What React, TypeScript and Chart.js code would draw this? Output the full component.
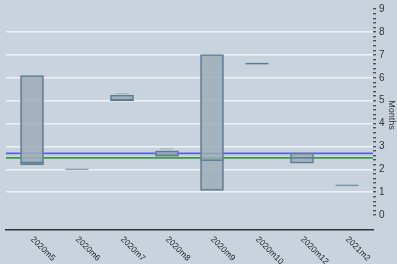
import React, { useEffect, useRef } from 'react';
import { Chart, registerables } from 'chart.js';

Chart.register(...registerables);

const categories = ['2020m5', '2020m6', '2020m7', '2020m8', '2020m9', '2020m10', '2020m12', '2021m2'];
const boxLow: (number | null)[] = [2.2, null, 5.0, 2.58, 1.08, null, 2.27, null];
const boxHigh: (number | null)[] = [6.1, null, 5.24, 2.81, 7.02, null, 2.71, null];
const medians: (number | null)[] = [2.3, 2.0, 5.03, 2.61, 2.4, 6.62, 2.5, 1.3];
const whiskerHigh: (number | null)[] = [null, null, 5.31, 2.9, null, null, null, null];
const medianColors = ['#5d7d96', '#8ea2b3', '#5d7d96', '#5d7d96', '#5d7d96', '#5d7b93', '#5d7d96', '#7d97ab'];
const blueRef = 2.7;
const greenRef = 2.5;
const xMin = -0.578;
const xMax = 7.578;
const yMin = -0.65;
const yMax = 9.4;
const yLabelMin = 0;
const yLabelMax = 9;
const yGridMin = 1;
const yGridMax = 8;
const yTitle = 'Months';

const isInt = (v: number) => Math.abs(v - Math.round(v)) < 1e-6;
const TRANSPARENT = 'rgba(0,0,0,0)';

const xLabelPlugin = {
  id: 'xLabelsRotated',
  afterDraw(chart: any) {
    const ctx = chart.ctx;
    const xs = chart.scales.x;
    const bottom = chart.chartArea.bottom;
    ctx.save();
    ctx.font = '8.5px "Liberation Sans", Arial, sans-serif';
    ctx.fillStyle = '#222';
    ctx.textAlign = 'left';
    ctx.textBaseline = 'middle';
    categories.forEach((c, i) => {
      const px = xs.getPixelForValue(i);
      ctx.save();
      ctx.translate(px, bottom + 8);
      ctx.rotate(Math.PI / 4);
      ctx.fillText(c, 0, 0);
      ctx.restore();
    });
    ctx.restore();
  },
};

export default function App() {
  const canvasRef = useRef<HTMLCanvasElement | null>(null);

  useEffect(() => {
    document.body.style.margin = '0';
    document.body.style.background = '#c9d3de';
    if (!canvasRef.current) return;
    Chart.defaults.font.family = '"Liberation Sans", Arial, sans-serif';
    const chart = new Chart(canvasRef.current, {
      type: 'bar',
      data: {
        datasets: [
          {
            type: 'line',
            data: [{ x: xMin, y: blueRef }, { x: xMax, y: blueRef }],
            borderColor: '#5a60e6',
            borderWidth: 1.6,
            pointRadius: 0,
            order: 5,
          },
          {
            type: 'line',
            data: [{ x: xMin, y: greenRef }, { x: xMax, y: greenRef }],
            borderColor: '#3c9e46',
            borderWidth: 1.6,
            pointRadius: 0,
            order: 5,
          },
          {
            type: 'bar',
            data: categories
              .map((_, i) => (boxLow[i] == null ? null : { x: i, y: [boxLow[i], boxHigh[i]] }))
              .filter((d) => d !== null) as any,
            backgroundColor: 'rgba(157,173,185,0.85)',
            borderColor: '#5d7d96',
            borderWidth: 1.5,
            borderSkipped: false,
            grouped: false,
            barThickness: 23,
            order: 3,
          },
          {
            type: 'line',
            data: categories
              .map((_, i) => (whiskerHigh[i] == null ? null : { x: i, y: whiskerHigh[i] }))
              .filter((d) => d !== null) as any,
            showLine: false,
            pointStyle: 'line',
            pointRadius: 6.5,
            pointBorderColor: '#a3bda7',
            pointBorderWidth: 1.3,
            order: 2,
          },
          {
            type: 'line',
            data: categories.map((_, i) => ({ x: i, y: medians[i] })) as any,
            showLine: false,
            pointStyle: 'line',
            pointRadius: 11.5,
            pointBorderColor: medianColors,
            pointBorderWidth: 1.5,
            order: 1,
          },
        ] as any,
      },
      options: {
        animation: false,
        responsive: false,
        devicePixelRatio: 1,
        layout: { autoPadding: false, padding: { left: 6, right: 0, top: 0, bottom: 0 } },
        plugins: { legend: { display: false }, tooltip: { enabled: false } },
        events: [],
        scales: {
          x: {
            type: 'linear',
            min: xMin,
            max: xMax,
            offset: false,
            grid: { display: false, drawTicks: false },
            border: { display: true, color: '#333', width: 1.5 },
            ticks: { display: false },
            afterFit: (s: any) => { s.height = 34; s.paddingLeft = 0; s.paddingRight = 0; },
          },
          y: {
            position: 'right',
            min: yMin,
            max: yMax,
            beginAtZero: false,
            afterFit: (s: any) => { s.width = 24; s.paddingTop = 0; s.paddingBottom = 0; },
            border: { display: false },
            grid: {
              color: (c: any) => {
                const v = c.tick ? c.tick.value : NaN;
                return isInt(v) && v >= yGridMin && v <= yGridMax ? '#edf1f5' : TRANSPARENT;
              },
              lineWidth: 1.5,
              tickColor: (c: any) => {
                const v = c.tick ? c.tick.value : NaN;
                const ok = v >= yLabelMin - 1e-6 && v <= yLabelMax + 1e-6 && isInt(v * 5);
                return ok ? '#3a3a3a' : TRANSPARENT;
              },
              tickLength: 3,
              tickWidth: 1.2,
              drawTicks: true,
            },
            ticks: {
              stepSize: 0.2,
              autoSkip: false,
              maxTicksLimit: 100,
              padding: 3,
              color: '#333',
              font: { size: 10 },
              callback: (v: any) => {
                const n = Number(v);
                return isInt(n) && n >= yLabelMin && n <= yLabelMax ? String(Math.round(n)) : '';
              },
            },
            title: { display: true, text: yTitle, color: '#333', font: { size: 9 }, padding: 0 },
          },
        },
      } as any,
      plugins: [xLabelPlugin],
    });
    return () => chart.destroy();
  }, []);

  return (
    <div style={{ width: 397, height: 264, background: '#c9d3de' }}>
      <canvas ref={canvasRef} width={397} height={264} style={{ display: 'block' }} />
    </div>
  );
}
